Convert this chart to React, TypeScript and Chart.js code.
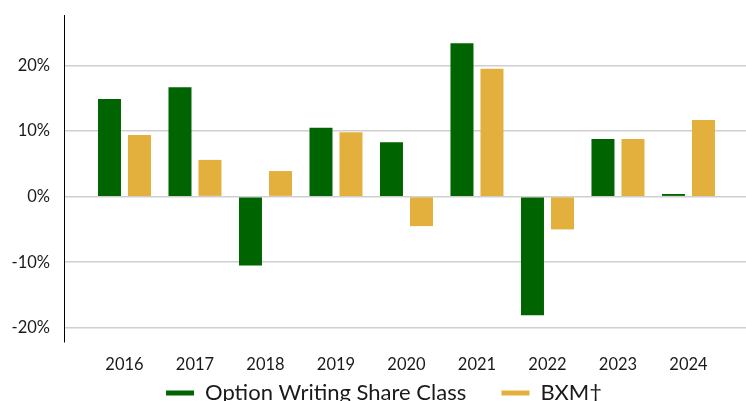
import React, { useEffect, useRef } from "react";
import { Chart, registerables } from "chart.js";

Chart.register(...registerables);

const years = ["2016", "2017", "2018", "2019", "2020", "2021", "2022", "2023", "2024"];
const optionWriting = [14.9, 16.7, -10.5, 10.5, 8.3, 23.4, -18.1, 8.8, 0.4];
const bxm = [9.4, 5.6, 3.9, 9.8, -4.5, 19.5, -5.0, 8.8, 11.7];
const yTicks = [-20, -10, 0, 10, 20];
const seriesNames = ["Option Writing Share Class", "BXM\u2020"];
const seriesColors = ["#006400", "#E3B03E"];

const FONT = "Lato, 'Open Sans', 'DejaVu Sans', sans-serif";
const W = 746;
const H = 414;

export default function App() {
  const ref = useRef<HTMLCanvasElement | null>(null);

  useEffect(() => {
    const canvas = ref.current;
    if (!canvas) return;
    const seriesData = [optionWriting, bxm];
    const legendShift = {
      id: "legendShift",
      afterLayout(c: any) {
        if (c.legend) c.legend.left += 22;
      },
    };
    const chart = new Chart(canvas, {
      type: "bar",
      data: {
        datasets: seriesData.map((vals, si) => ({
          label: seriesNames[si],
          data: vals.map((v, i) => ({ x: i, y: v })),
          backgroundColor: seriesColors[si],
          borderWidth: 0,
          barPercentage: 23 / 30,
          categoryPercentage: 60 / 70.5,
        })),
      },
      plugins: [legendShift],
      options: {
        animation: false,
        responsive: false,
        devicePixelRatio: 1,
        layout: { padding: { top: 15, left: 0, right: 0, bottom: 0 } },
        scales: {
          x: {
            type: "linear",
            offset: false,
            min: -0.858,
            max: 8.816,
            grid: { display: false, drawTicks: false, offset: false },
            border: { display: false },
            afterBuildTicks: (axis: any) => {
              axis.ticks = years.map((_, i) => ({ value: i }));
            },
            afterFit: (axis: any) => {
              axis.height = 30;
              axis.paddingLeft = 0;
              axis.paddingRight = 0;
            },
            ticks: {
              autoSkip: false,
              maxRotation: 0,
              padding: 13,
              color: "#1a1a1a",
              font: { family: FONT, size: 16.5 },
              callback: (v: any) => years[Math.round(Number(v))] ?? "",
            },
          },
          y: {
            min: -22.17,
            max: 27.7,
            afterBuildTicks: (axis: any) => {
              axis.ticks = yTicks.map((v) => ({ value: v }));
            },
            afterFit: (axis: any) => {
              axis.width = 64;
              axis.paddingTop = 0;
              axis.paddingBottom = 0;
            },
            grid: { color: "#cfcfcf", lineWidth: 1.5, drawTicks: false },
            border: { display: true, color: "#000000", width: 1 },
            ticks: {
              padding: 14,
              color: "#1a1a1a",
              font: { family: FONT, size: 16.5 },
              callback: (v: any) => `${v}%`,
            },
          },
        },
        plugins: {
          tooltip: { enabled: false },
          legend: {
            position: "bottom",
            labels: {
              usePointStyle: true,
              pointStyleWidth: 28,
              padding: 10,
              color: "#1a1a1a",
              font: { family: FONT, size: 22 },
              generateLabels: (c: any) =>
                c.data.datasets.map((ds: any, i: number) => ({
                  text: i === 0 ? ds.label + "    \u2009" : ds.label,
                  fillStyle: ds.backgroundColor,
                  strokeStyle: ds.backgroundColor,
                  lineWidth: 5,
                  lineCap: "butt",
                  pointStyle: "line",
                  hidden: false,
                  datasetIndex: i,
                  fontColor: "#1a1a1a",
                })),
            },
          },
        },
      },
    } as any);
    return () => chart.destroy();
  }, []);

  return (
    <div style={{ position: "fixed", left: 0, top: 0, width: W, height: H, background: "#fff" }}>
      <canvas ref={ref} width={W} height={H} style={{ display: "block", width: W, height: H }} />
    </div>
  );
}
